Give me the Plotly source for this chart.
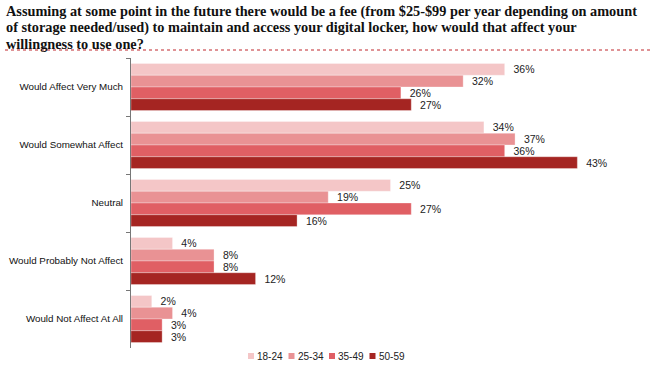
import plotly.graph_objects as go

categories = ["Would Affect Very Much", "Would Somewhat Affect", "Neutral",
              "Would Probably Not Affect", "Would Not Affect At All"]
series_names = ["18-24", "25-34", "35-49", "50-59"]
v_18_24 = [36, 34, 25, 4, 2]
v_25_34 = [32, 37, 19, 8, 4]
v_35_49 = [26, 36, 27, 8, 3]
v_50_59 = [27, 43, 16, 12, 3]
colors = ["#F4C6C7", "#E99294", "#E05F64", "#A52522"]

title_lines = [
    "Assuming at some point in the future there would be a fee (from $25-$99 per year depending on amount",
    "of storage needed/used) to maintain and access your digital locker, how would that affect your",
    "willingness to use one?",
]

SANS = "Liberation Sans, Arial, sans-serif"
L, R, T, B = 131, 10, 58, 23
W, H = 660, 371
PW, PH = W - L - R, H - T - B

fig = go.Figure()
for name, vals, col in zip(series_names, [v_18_24, v_25_34, v_35_49, v_50_59], colors):
    fig.add_trace(go.Bar(
        y=categories, x=vals, name=name, orientation="h",
        marker=dict(color=col, line=dict(color="rgba(255,255,255,0.5)", width=0.6)),
        texttemplate="  %{x}%", textposition="outside", cliponaxis=False,
        constraintext="none",
        textfont=dict(family=SANS, size=10.5, color="#222"),
        showlegend=False, hoverinfo="skip",
    ))

fig.update_layout(
    width=W, height=H,
    margin=dict(l=L, r=R, t=T, b=B, autoexpand=False),
    paper_bgcolor="white", plot_bgcolor="white",
    barmode="group", bargap=0.19, bargroupgap=0,
    showlegend=False,
    font=dict(family=SANS, size=10, color="#222"),
    xaxis=dict(range=[0, 50], visible=False),
    yaxis=dict(autorange="reversed", showline=True, linecolor="#777", linewidth=1,
               ticks="outside", ticklen=4, tickcolor="#777", tickson="boundaries",
               automargin=False,
               tickfont=dict(family=SANS, size=9.8, color="#111"),
               ticklabelstandoff=5),
)

def px(x):
    return (x - L) / PW

def py(y):
    return 1 - (y - T) / PH

for i, line in enumerate(title_lines):
    fig.add_annotation(text=line, xref="paper", yref="paper", x=px(4), y=py(11 + 16.5 * i),
                       xanchor="left", yanchor="middle", align="left", showarrow=False,
                       font=dict(family="Liberation Serif, Times New Roman, serif", size=14.3,
                                 color="#111", weight="bold"))
fig.add_shape(type="line", xref="paper", yref="paper", x0=px(5), x1=px(652),
              y0=py(50), y1=py(50),
              line=dict(color="#C0262C", width=1, dash="dot"))

# manual legend
leg_x0 = 248
leg_step = 40.5
for i, (name, col) in enumerate(zip(series_names, colors)):
    x = leg_x0 + i * leg_step
    fig.add_shape(type="rect", xref="paper", yref="paper",
                  x0=px(x), x1=px(x + 6), y0=py(359), y1=py(353),
                  fillcolor=col, line=dict(width=0))
    fig.add_annotation(text=name, xref="paper", yref="paper", x=px(x + 7), y=py(356),
                       xanchor="left", yanchor="middle", showarrow=False,
                       font=dict(family=SANS, size=10, color="#222"))
fig.write_html("out.html", config={"displayModeBar": False},
               post_script="document.body.style.margin='0px';")
